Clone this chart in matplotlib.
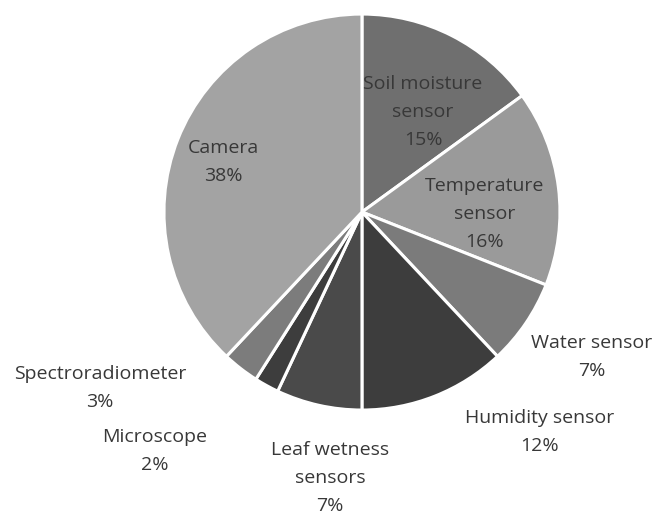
import matplotlib.pyplot as plt

# ---------------------------------------------------------
# Data: share of sensing devices (%)
# ---------------------------------------------------------
labels = [
    "Soil moisture\nsensor",
    "Temperature\nsensor",
    "Water sensor",
    "Humidity sensor",
    "Leaf wetness\nsensors",
    "Microscope",
    "Spectroradiometer",
    "Camera",
]
shares = [15, 16, 7, 12, 7, 2, 3, 38]

# grey fill for each wedge
colors = ["#6f6f6f", "#9a9a9a", "#7b7b7b", "#3d3d3d",
          "#4a4a4a", "#3d3d3d", "#7c7c7c", "#a3a3a3"]

# label anchor points in pie units (centre = 0,0, radius = 1)
label_xy = [(0.308, 0.505), (0.621, -0.010), (1.162, -0.732), (0.899, -1.111),
            (-0.162, -1.343), (-1.045, -1.207), (-1.323, -0.889), (-0.702, 0.253)]

plt.rcParams["font.family"] = ["Open Sans", "DejaVu Sans"]
text_color = "#383838"

fig = plt.figure(figsize=(6.57, 5.13), dpi=100)
ax = fig.add_axes([0, 0, 1, 1])

ax.pie(
    shares,
    colors=colors,
    startangle=90,
    counterclock=False,
    radius=1.0,
    wedgeprops={"edgecolor": "white", "linewidth": 2.2},
)

for name, pct, (x, y) in zip(labels, shares, label_xy):
    ax.text(x, y, f"{name}\n{pct}%", ha="center", va="center",
            fontsize=14, color=text_color, linespacing=1.7)

# 198 px per pie unit, centre at (362, 212) px from top-left
ax.set_xlim(-1.828, 1.490)
ax.set_ylim(-1.520, 1.071)
ax.set_aspect("equal")
ax.axis("off")

fig.savefig("out.png", dpi=100)
